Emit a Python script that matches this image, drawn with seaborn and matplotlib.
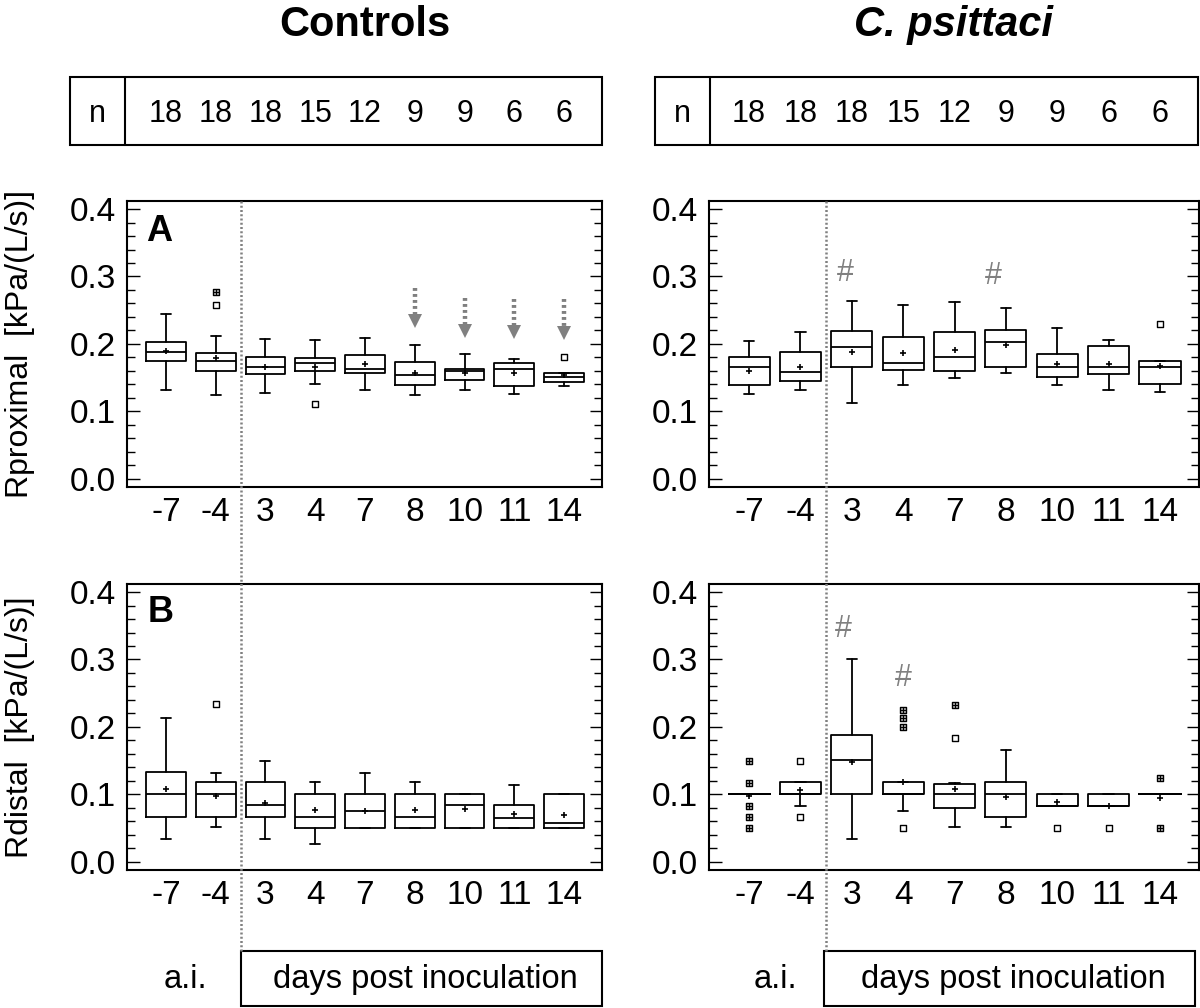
import matplotlib
matplotlib.use("Agg")
import matplotlib.pyplot as plt
import matplotlib.transforms as mtrans
from matplotlib.lines import Line2D
from matplotlib.patches import Rectangle
from matplotlib.ticker import MultipleLocator, FormatStrFormatter
import numpy as np
import pandas as pd
import seaborn as sns

# ---------------- data ----------------
days = ['-7', '-4', '3', '4', '7', '8', '10', '11', '14']
n_controls = [18, 18, 18, 15, 12, 9, 9, 6, 6]
n_psittaci = [18, 18, 18, 15, 12, 9, 9, 6, 6]

# Panel A, controls (Rproximal)
ctrlA_whislo = [0.132, 0.124, 0.127, 0.141, 0.132, 0.124, 0.132, 0.126, 0.1376]
ctrlA_q1     = [0.174, 0.159, 0.155, 0.159, 0.157, 0.139, 0.147, 0.137, 0.144]
ctrlA_med    = [0.188, 0.174, 0.166, 0.171, 0.163, 0.153, 0.160, 0.162, 0.151]
ctrlA_q3     = [0.2025, 0.186, 0.181, 0.179, 0.183, 0.173, 0.163, 0.172, 0.156]
ctrlA_whishi = [0.245, 0.211, 0.207, 0.205, 0.209, 0.198, 0.185, 0.178, 0.156]
ctrlA_mean   = [0.189, 0.179, 0.166, 0.166, 0.170, 0.156, 0.156, 0.156, 0.1535]
ctrlA_out_single = {1: [0.257], 3: [0.111], 8: [0.181]}
ctrlA_out_multi  = {1: [0.277]}
ctrlA_arrow_idx = [5, 6, 7, 8]
ctrlA_arrow_top = [0.283, 0.268, 0.267, 0.266]
ctrlA_arrow_tip = [0.224, 0.208, 0.207, 0.206]

# Panel A, C. psittaci (Rproximal)
psiA_whislo = [0.125, 0.131, 0.112, 0.1386, 0.150, 0.157, 0.1396, 0.132, 0.128]
psiA_q1     = [0.1386, 0.1446, 0.166, 0.161, 0.159, 0.166, 0.1505, 0.155, 0.141]
psiA_med    = [0.166, 0.158, 0.196, 0.171, 0.181, 0.202, 0.165, 0.166, 0.165]
psiA_q3     = [0.180, 0.1886, 0.219, 0.210, 0.218, 0.220, 0.185, 0.1965, 0.1747]
psiA_whishi = [0.2035, 0.218, 0.264, 0.257, 0.262, 0.2535, 0.223, 0.206, 0.1747]
psiA_mean   = [0.160, 0.165, 0.188, 0.186, 0.191, 0.1985, 0.170, 0.170, 0.167]
psiA_out_single = {8: [0.230]}
psiA_out_multi  = {}
psiA_hash_x = [1.88, 4.75]
psiA_hash_y = [0.3045, 0.301]

# Panel B, controls (Rdistal)
ctrlB_whislo = [0.0336, 0.051, 0.0336, 0.0257, 0.050, 0.050, 0.050, 0.050, 0.050]
ctrlB_q1     = [0.0667, 0.0667, 0.0667, 0.050, 0.050, 0.050, 0.050, 0.050, 0.050]
ctrlB_med    = [0.100, 0.100, 0.0835, 0.0667, 0.075, 0.0667, 0.0835, 0.0647, 0.058]
ctrlB_q3     = [0.1323, 0.1175, 0.1175, 0.100, 0.100, 0.100, 0.100, 0.0835, 0.100]
ctrlB_whishi = [0.2138, 0.132, 0.150, 0.1175, 0.132, 0.1175, 0.100, 0.114, 0.100]
ctrlB_mean   = [0.107, 0.097, 0.0874, 0.076, 0.0756, 0.076, 0.0785, 0.071, 0.069]
ctrlB_out_single = {1: [0.2336]}
ctrlB_out_multi  = {}

# Panel B, C. psittaci (Rdistal)
psiB_whislo = [0.100, 0.083, 0.033, 0.0746, 0.051, 0.051, 0.083, 0.083, 0.100]
psiB_q1     = [0.100, 0.100, 0.100, 0.100, 0.079, 0.0667, 0.083, 0.083, 0.100]
psiB_med    = [0.100, 0.100, 0.1506, 0.100, 0.100, 0.100, 0.083, 0.083, 0.100]
psiB_q3     = [0.100, 0.1175, 0.188, 0.1175, 0.1146, 0.1175, 0.100, 0.100, 0.100]
psiB_whishi = [0.100, 0.1175, 0.300, 0.1175, 0.117, 0.166, 0.100, 0.100, 0.100]
psiB_mean   = [0.097, 0.106, 0.148, 0.1185, 0.1077, 0.0963, 0.089, 0.083, 0.095]
psiB_out_single = {1: [0.150, 0.0667], 3: [0.050], 4: [0.1827], 6: [0.050], 7: [0.050]}
psiB_out_multi  = {0: [0.150, 0.117, 0.083, 0.0667, 0.050], 3: [0.2247, 0.2133, 0.1995],
                   4: [0.233], 8: [0.1245, 0.050]}
psiB_hash_x = [1.83, 3.0]
psiB_hash_y = [0.3457, 0.2726]

# ---------------- style ----------------
sns.set_theme(style="white")
plt.rcParams['font.family'] = ['Liberation Sans', 'DejaVu Sans']
plt.rcParams['text.color'] = 'black'
plt.rcParams['axes.labelcolor'] = 'black'
plt.rcParams['xtick.color'] = 'black'
plt.rcParams['ytick.color'] = 'black'
plt.rcParams['axes.edgecolor'] = 'black'

W, H = 1200, 1008
fig = plt.figure(figsize=(W / 100, H / 100), dpi=100)
fig.patch.set_facecolor('white')


def fx(px):
    return px / W


def fy(py):
    return 1 - py / H


def add_axes(l, t, r, b):
    return fig.add_axes([fx(l), fy(b), fx(r) - fx(l), (b - t) / H])


GRAY = '#808080'
TICK_FS = 24

axTL = add_axes(127, 201, 602, 487)
axTR = add_axes(709, 201, 1199, 487)
axBL = add_axes(127, 584, 602, 870)
axBR = add_axes(709, 584, 1199, 870)


def outlier_frame(d):
    rows = [(i, v) for i, vals in d.items() for v in vals]
    return pd.DataFrame(rows, columns=['pos', 'val'])


def draw_panel(ax, whislo, q1, med, q3, whishi, mean, out_single, out_multi):
    pos = list(range(len(days)))
    stats = [dict(whislo=a, q1=b, med=c, q3=d, whishi=e, fliers=[])
             for a, b, c, d, e in zip(whislo, q1, med, q3, whishi)]
    lw = 1.3
    ax.bxp(stats, positions=pos, widths=0.8, capwidths=0.2, showfliers=False,
           manage_ticks=False,
           boxprops=dict(color='black', linewidth=lw),
           medianprops=dict(color='black', linewidth=lw),
           whiskerprops=dict(color='black', linewidth=lw),
           capprops=dict(color='black', linewidth=lw))
    mdf = pd.DataFrame({'pos': pos, 'mean': mean})
    sns.scatterplot(data=mdf, x='pos', y='mean', marker='+', s=16, color='black',
                    linewidth=1.2, ax=ax, legend=False, zorder=5)
    so = outlier_frame(out_single)
    if len(so):
        sns.scatterplot(data=so, x='pos', y='val', marker='s', s=16, color='white',
                        edgecolor='black', linewidth=1.0, ax=ax, legend=False, zorder=5)
    mo = outlier_frame(out_multi)
    if len(mo):
        sns.scatterplot(data=mo, x='pos', y='val', marker='s', s=20, color='#c8c8c8',
                        edgecolor='black', linewidth=1.0, ax=ax, legend=False, zorder=5)
        sns.scatterplot(data=mo, x='pos', y='val', marker='+', s=14, color='black',
                        linewidth=0.9, ax=ax, legend=False, zorder=6)

    ax.set_xlim(-0.78, 8.76)
    ax.set_ylim(-0.0125, 0.412)
    ax.set_xticks(pos)
    ax.set_xticklabels(days)
    ax.set_xlabel('')
    ax.set_ylabel('')
    ax.yaxis.set_major_locator(MultipleLocator(0.1))
    ax.yaxis.set_minor_locator(MultipleLocator(0.02))
    ax.yaxis.set_major_formatter(FormatStrFormatter('%.1f'))
    ax.tick_params(axis='y', which='both', direction='in', left=True, right=True,
                   width=1.0, color='black', labelcolor='black', labelsize=TICK_FS, pad=8)
    ax.tick_params(axis='y', which='major', length=9)
    ax.tick_params(axis='y', which='minor', length=5.5)
    ax.tick_params(axis='x', length=0, labelsize=TICK_FS, labelcolor='black', pad=7)
    for sp in ax.spines.values():
        sp.set_color('black')
        sp.set_linewidth(1.5)
    ax.set_facecolor('white')
    ax.grid(False)


draw_panel(axTL, ctrlA_whislo, ctrlA_q1, ctrlA_med, ctrlA_q3, ctrlA_whishi, ctrlA_mean,
           ctrlA_out_single, ctrlA_out_multi)
draw_panel(axTR, psiA_whislo, psiA_q1, psiA_med, psiA_q3, psiA_whishi, psiA_mean,
           psiA_out_single, psiA_out_multi)
draw_panel(axBL, ctrlB_whislo, ctrlB_q1, ctrlB_med, ctrlB_q3, ctrlB_whishi, ctrlB_mean,
           ctrlB_out_single, ctrlB_out_multi)
draw_panel(axBR, psiB_whislo, psiB_q1, psiB_med, psiB_q3, psiB_whishi, psiB_mean,
           psiB_out_single, psiB_out_multi)

# arrows in panel A (controls)
fig.canvas.draw()
px_per_unit = axTL.bbox.height / (axTL.get_ylim()[1] - axTL.get_ylim()[0])
head_ms = 10  # points
head_h = head_ms * 100 / 72 / px_per_unit
for i, top, tip in zip(ctrlA_arrow_idx, ctrlA_arrow_top, ctrlA_arrow_tip):
    axTL.plot([i, i], [top, tip + head_h], color=GRAY, lw=3.2,
              linestyle=(0, (0.65, 0.7)), solid_capstyle='butt', zorder=4)
    axTL.plot([i], [tip + head_h / 2], marker='v', ms=head_ms, color=GRAY,
              markeredgewidth=0, zorder=4)

# hash marks
for x, y in zip(psiA_hash_x, psiA_hash_y):
    axTR.text(x, y, '#', color=GRAY, fontsize=22, ha='center', va='center')
for x, y in zip(psiB_hash_x, psiB_hash_y):
    axBR.text(x, y, '#', color=GRAY, fontsize=22, ha='center', va='center')

# panel letters
axTL.text((146 - 127) / 475, (487 - 231) / 286, 'A', transform=axTL.transAxes,
          fontsize=26, fontweight='bold', ha='left', va='center', color='black')
axBL.text((148 - 127) / 475, (870 - 613) / 286, 'B', transform=axBL.transAxes,
          fontsize=26, fontweight='bold', ha='left', va='center', color='black')

# titles
fig.text(fx(364.5), fy(36), 'Controls', fontsize=30, fontweight='bold',
         ha='center', va='baseline', color='black')
fig.text(fx(954), fy(36), 'C. psittaci', fontsize=30, fontweight='bold',
         fontstyle='italic', ha='center', va='baseline', color='black')

# y labels
fig.text(fx(20), fy(344), 'Rproximal  [kPa/(L/s)]', rotation=90, fontsize=23,
         ha='center', va='center', color='black')
fig.text(fx(20), fy(727), 'Rdistal  [kPa/(L/s)]', rotation=90, fontsize=23,
         ha='center', va='center', color='black')


def frame_box(l, t, r, b, lw=1.5):
    fig.add_artist(Rectangle((fx(l), fy(b)), fx(r) - fx(l), (b - t) / H,
                             transform=fig.transFigure, fill=False,
                             edgecolor='black', linewidth=lw))


# n tables
for ax, counts, l, div, r in [(axTL, n_controls, 70, 125, 602),
                              (axTR, n_psittaci, 655, 710, 1198)]:
    frame_box(l, 77, r, 145)
    fig.add_artist(Line2D([fx(div), fx(div)], [fy(77), fy(145)],
                          transform=fig.transFigure, color='black', lw=1.5))
    fig.text(fx((l + div) / 2), fy(122), 'n', fontsize=22, ha='center', va='baseline',
             color='black')
    tr = mtrans.blended_transform_factory(ax.transData, fig.transFigure)
    for i, c in enumerate(counts):
        fig.text(i, fy(122), str(c), fontsize=22, ha='center', va='baseline',
                 transform=tr, color='black')

# dotted separators between a.i. and days p.i.
for ax in (axTL, axTR):
    tr = mtrans.blended_transform_factory(ax.transData, fig.transFigure)
    fig.add_artist(Line2D([1.5, 1.5], [fy(201), fy(951)], transform=tr,
                          color=GRAY, lw=1.8, linestyle=(0, (0.8, 0.9))))

# bottom labels
for ax, l, r in [(axBL, 241, 602), (axBR, 824, 1195)]:
    frame_box(l, 951, r, 1006)
    fig.text(fx((l + r) / 2 + 4), fy(988), 'days post inoculation', fontsize=23.5,
             ha='center', va='baseline', color='black')
fig.text(fx(185.5), fy(988), 'a.i.', fontsize=23.5, ha='center', va='baseline',
         color='black')
fig.text(fx(775), fy(988), 'a.i.', fontsize=23.5, ha='center', va='baseline',
         color='black')

fig.savefig('out.png', dpi=100, facecolor='white')
